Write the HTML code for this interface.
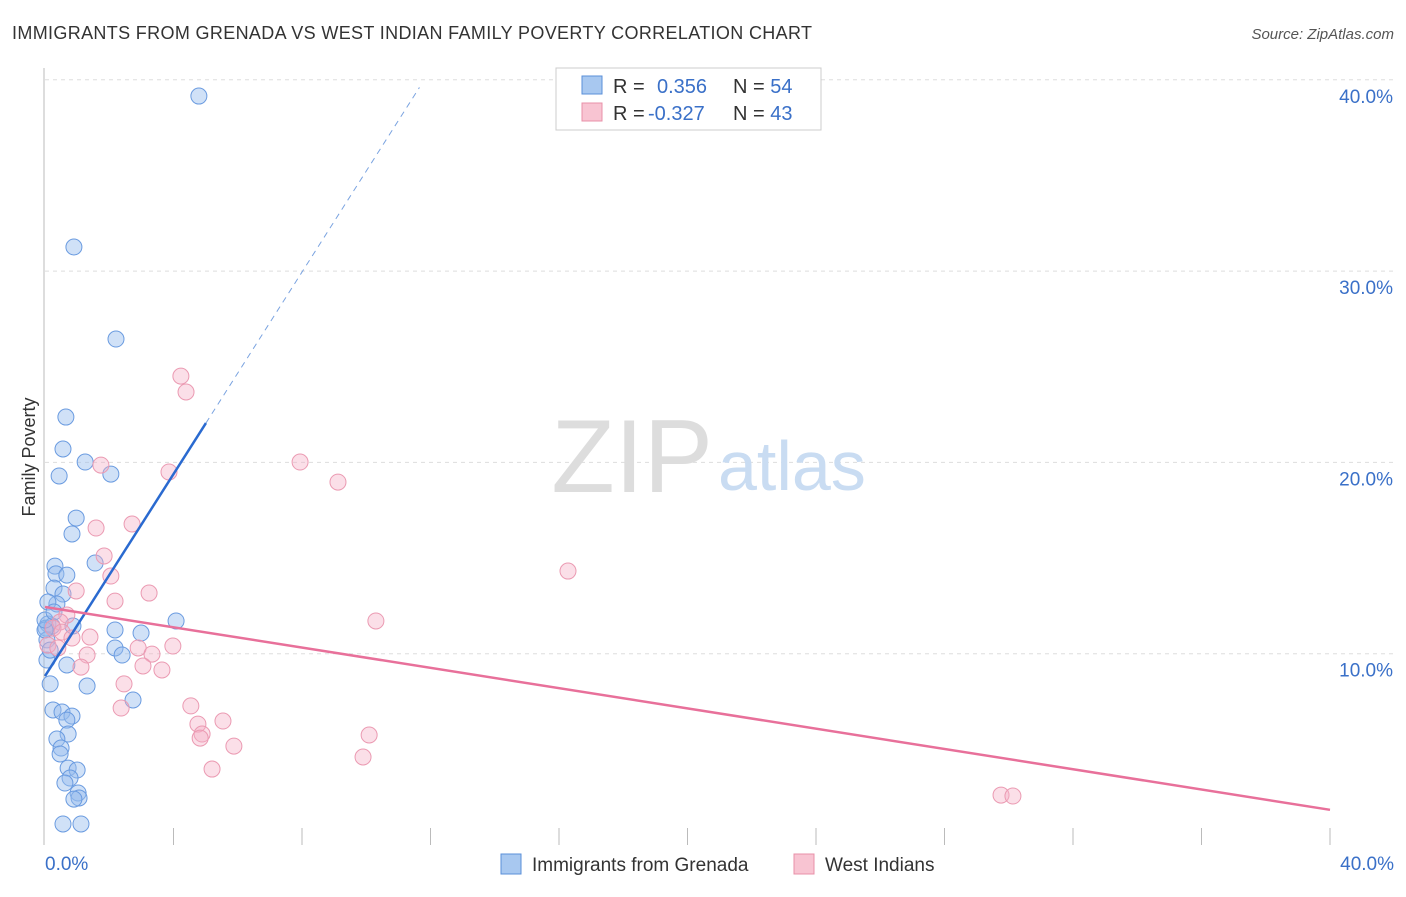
<!DOCTYPE html>
<html><head><meta charset="utf-8"><style>
body{margin:0;background:#fff;font-family:"Liberation Sans",sans-serif;}
svg text{font-family:"Liberation Sans",sans-serif;}
</style></head><body>
<svg width="1406" height="892">
<text x="12" y="39" font-size="18" fill="#333" textLength="800">IMMIGRANTS FROM GRENADA VS WEST INDIAN FAMILY POVERTY CORRELATION CHART</text>
<text x="1394" y="39" font-size="15" fill="#555" font-style="italic" text-anchor="end">Source: ZipAtlas.com</text>
<g id="grid"></g>
<text x="713" y="492" font-size="104" fill="#ddd" text-anchor="end" font-family="Liberation Serif">ZIP</text>
<text x="718" y="490" font-size="70" fill="#c9dcf2">atlas</text>
<line x1="44" y1="68" x2="44" y2="845" stroke="#bbb"/>
<text x="35" y="457" font-size="18" fill="#333" text-anchor="middle" transform="rotate(-90 35 457)">Family Poverty</text>
<g id="pts"></g>
<g id="lines"></g>
<rect x="556" y="68" width="265" height="62" fill="#fff" stroke="#ccc"/>
<rect x="582" y="76" width="20" height="18" fill="#a8c8f0" stroke="#5a8fd8"/>
<rect x="582" y="103" width="20" height="18" fill="#f8c4d2" stroke="#e890a8"/>
<text x="613" y="93" font-size="20" fill="#333">R = <tspan x="657" fill="#3a70c8">0.356</tspan><tspan x="733" fill="#333">N = </tspan><tspan fill="#3a70c8">54</tspan></text>
<text x="613" y="120" font-size="20" fill="#333">R = <tspan x="648" fill="#3a70c8">-0.327</tspan><tspan x="733" fill="#333">N = </tspan><tspan fill="#3a70c8">43</tspan></text>
<rect x="501" y="854" width="20" height="20" fill="#a8c8f0" stroke="#5a8fd8"/>
<text x="532" y="871" font-size="19" fill="#333">Immigrants from Grenada</text>
<rect x="794" y="854" width="20" height="20" fill="#f8c4d2" stroke="#e890a8"/>
<text x="825" y="871" font-size="19" fill="#333">West Indians</text>
<text x="45" y="870" font-size="19" fill="#3a70c8">0.0%</text>
<text x="1394" y="870" font-size="19" fill="#3a70c8" text-anchor="end">40.0%</text>
</svg>
<script>
const blueX=[4.79,0.90,2.21,0.65,0.56,1.25,0.44,2.05,0.97,0.84,1.56,0.31,0.34,0.68,0.28,0.56,0.37,0.09,0.09,0.03,0.22,0.87,2.18,2.99,4.08,2.18,2.40,0.06,0.68,0.16,1.31,2.74,0.25,0.53,0.84,0.68,0.72,0.37,0.50,0.47,0.72,1.00,0.78,0.62,1.03,1.06,0.90,0.56,1.12,0.06,0.00,0.16,0.0,0.28];
const blueY=[39.15,31.26,26.45,22.37,20.70,20.02,19.29,19.39,17.09,16.26,14.74,14.58,14.17,14.11,13.43,13.12,12.60,12.70,11.55,11.34,11.45,11.45,11.24,11.08,11.71,10.30,9.93,9.67,9.41,8.42,8.31,7.58,7.06,6.95,6.74,6.53,5.80,5.54,5.07,4.76,4.02,3.92,3.50,3.24,2.72,2.46,2.40,1.10,1.10,10.72,11.24,10.19,11.76,12.18];
const pinkX=[4.23,4.39,7.94,9.12,1.74,3.86,1.59,2.71,1.84,2.05,3.24,0.97,2.18,16.28,10.30,0.68,0.47,0.25,0.53,1.40,3.98,2.90,0.84,0.09,0.40,1.31,3.33,3.05,3.64,1.12,2.46,2.37,4.54,5.54,4.76,4.89,4.83,10.09,5.88,5.20,9.90,29.76,30.13];
const pinkY=[24.51,23.68,20.02,18.97,19.86,19.50,16.57,16.78,15.11,14.06,13.17,13.28,12.75,14.32,11.71,12.02,11.66,11.34,11.13,10.87,10.40,10.30,10.82,10.45,10.30,9.93,9.98,9.36,9.15,9.30,8.42,7.16,7.27,6.48,6.32,5.80,5.59,5.75,5.17,3.97,4.60,2.61,2.56];
const yTicks=[10,20,30,40];
const yTickLabels=["10.0%","20.0%","30.0%","40.0%"];
const xTicks=[0,4,8,12,16,20,24,28,32,36,40];
const blueTrend=[8.83,2.64];
const pinkTrend=[12.44,-0.265];
const sx=v=>45+v*1285/40, sy=v=>845-v*19.13;
const NS="http://www.w3.org/2000/svg";
function mk(t,a,p){const e=document.createElementNS(NS,t);for(const k in a)e.setAttribute(k,a[k]);p.appendChild(e);return e;}
const grid=document.getElementById('grid');
yTicks.forEach((t,i)=>{
 const l=mk('line',{x1:45,x2:1393,y1:sy(t),y2:sy(t),stroke:'#ddd','stroke-dasharray':'4,4'},grid);
 
 
 const tx=mk('text',{x:1393,y:sy(t)+23,'font-size':19,fill:'#3a70c8','text-anchor':'end'},grid);
 tx.textContent=yTickLabels[i];
 
 
});
xTicks.slice(1).forEach(t=>{
 const l=mk('line',{x1:sx(t),x2:sx(t),y1:828,y2:845,stroke:'#bbb'},grid);
 
 
});
const pts=document.getElementById('pts');
blueX.forEach((x,i)=>{
 const c=mk('circle',{cx:sx(x),cy:sy(blueY[i]),r:8,fill:'rgba(150,188,238,0.45)',stroke:'#6a9be0','stroke-width':1},pts);
 
 
});
pinkX.forEach((x,i)=>{
 const c=mk('circle',{cx:sx(x),cy:sy(pinkY[i]),r:8,fill:'rgba(245,175,198,0.4)',stroke:'#eb9ab2','stroke-width':1},pts);
 
 
});
const L=document.getElementById('lines');
const bf=x=>blueTrend[0]+blueTrend[1]*x, pf=x=>pinkTrend[0]+pinkTrend[1]*x;
let a=mk('line',{x1:sx(0),y1:sy(bf(0)),x2:sx(5.01),y2:sy(bf(5.01)),stroke:'#2a6ad0','stroke-width':2.5},L);


const xe=(39.6-blueTrend[0])/blueTrend[1];
a=mk('line',{x1:sx(5.01),y1:sy(bf(5.01)),x2:sx(xe),y2:sy(bf(xe)),stroke:'#7aa3e0','stroke-width':1,'stroke-dasharray':'6,5'},L);


a=mk('line',{x1:sx(0),y1:sy(pf(0)),x2:sx(40),y2:sy(pf(40)),stroke:'#e8709a','stroke-width':2.5},L);


</script>
</body></html>
